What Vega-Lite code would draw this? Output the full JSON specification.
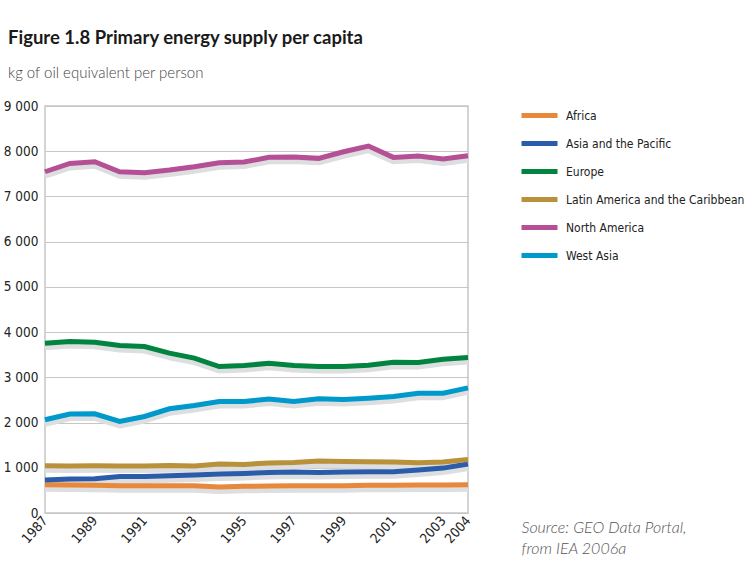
{
  "$schema": "https://vega.github.io/schema/vega-lite/v6.json",
  "autosize": {"type": "none"},
  "padding": {"left": 45, "top": 106, "right": 288, "bottom": 64},
  "width": 423,
  "height": 407,
  "background": "white",
  "title": {
    "text": "Figure 1.8 Primary energy supply per capita",
    "subtitle": "kg of oil equivalent per person",
    "anchor": "start",
    "frame": "group",
    "dx": -37,
    "offset": 18,
    "font": "Lato",
    "fontSize": 18.5,
    "fontWeight": "bold",
    "color": "#1a1a1a",
    "subtitleFont": "Lato",
    "subtitleFontSize": 15,
    "subtitleFontWeight": 300,
    "subtitleColor": "#444444",
    "subtitlePadding": 19
  },
  "data": {"values": [
    {"year":1987,"region":"Africa","value":626},{"year":1988,"region":"Africa","value":619},{"year":1989,"region":"Africa","value":612},{"year":1990,"region":"Africa","value":604},{"year":1991,"region":"Africa","value":604},{"year":1992,"region":"Africa","value":604},{"year":1993,"region":"Africa","value":604},{"year":1994,"region":"Africa","value":576},{"year":1995,"region":"Africa","value":590},{"year":1996,"region":"Africa","value":597},{"year":1997,"region":"Africa","value":604},{"year":1998,"region":"Africa","value":604},{"year":1999,"region":"Africa","value":604},{"year":2000,"region":"Africa","value":612},{"year":2001,"region":"Africa","value":612},{"year":2002,"region":"Africa","value":619},{"year":2003,"region":"Africa","value":619},{"year":2004,"region":"Africa","value":626},
    {"year":1987,"region":"Asia and the Pacific","value":728},{"year":1988,"region":"Asia and the Pacific","value":751},{"year":1989,"region":"Asia and the Pacific","value":758},{"year":1990,"region":"Asia and the Pacific","value":809},{"year":1991,"region":"Asia and the Pacific","value":809},{"year":1992,"region":"Asia and the Pacific","value":824},{"year":1993,"region":"Asia and the Pacific","value":839},{"year":1994,"region":"Asia and the Pacific","value":861},{"year":1995,"region":"Asia and the Pacific","value":875},{"year":1996,"region":"Asia and the Pacific","value":898},{"year":1997,"region":"Asia and the Pacific","value":905},{"year":1998,"region":"Asia and the Pacific","value":898},{"year":1999,"region":"Asia and the Pacific","value":905},{"year":2000,"region":"Asia and the Pacific","value":912},{"year":2001,"region":"Asia and the Pacific","value":912},{"year":2002,"region":"Asia and the Pacific","value":949},{"year":2003,"region":"Asia and the Pacific","value":993},{"year":2004,"region":"Asia and the Pacific","value":1082},
    {"year":1987,"region":"Europe","value":3755},{"year":1988,"region":"Europe","value":3791},{"year":1989,"region":"Europe","value":3776},{"year":1990,"region":"Europe","value":3702},{"year":1991,"region":"Europe","value":3680},{"year":1992,"region":"Europe","value":3534},{"year":1993,"region":"Europe","value":3424},{"year":1994,"region":"Europe","value":3239},{"year":1995,"region":"Europe","value":3260},{"year":1996,"region":"Europe","value":3313},{"year":1997,"region":"Europe","value":3260},{"year":1998,"region":"Europe","value":3239},{"year":1999,"region":"Europe","value":3239},{"year":2000,"region":"Europe","value":3269},{"year":2001,"region":"Europe","value":3335},{"year":2002,"region":"Europe","value":3328},{"year":2003,"region":"Europe","value":3402},{"year":2004,"region":"Europe","value":3437},
    {"year":1987,"region":"Latin America and the Caribbean","value":1045},{"year":1988,"region":"Latin America and the Caribbean","value":1040},{"year":1989,"region":"Latin America and the Caribbean","value":1045},{"year":1990,"region":"Latin America and the Caribbean","value":1042},{"year":1991,"region":"Latin America and the Caribbean","value":1042},{"year":1992,"region":"Latin America and the Caribbean","value":1052},{"year":1993,"region":"Latin America and the Caribbean","value":1042},{"year":1994,"region":"Latin America and the Caribbean","value":1082},{"year":1995,"region":"Latin America and the Caribbean","value":1075},{"year":1996,"region":"Latin America and the Caribbean","value":1104},{"year":1997,"region":"Latin America and the Caribbean","value":1118},{"year":1998,"region":"Latin America and the Caribbean","value":1148},{"year":1999,"region":"Latin America and the Caribbean","value":1141},{"year":2000,"region":"Latin America and the Caribbean","value":1133},{"year":2001,"region":"Latin America and the Caribbean","value":1126},{"year":2002,"region":"Latin America and the Caribbean","value":1111},{"year":2003,"region":"Latin America and the Caribbean","value":1126},{"year":2004,"region":"Latin America and the Caribbean","value":1185},
    {"year":1987,"region":"North America","value":7546},{"year":1988,"region":"North America","value":7731},{"year":1989,"region":"North America","value":7767},{"year":1990,"region":"North America","value":7546},{"year":1991,"region":"North America","value":7524},{"year":1992,"region":"North America","value":7583},{"year":1993,"region":"North America","value":7656},{"year":1994,"region":"North America","value":7745},{"year":1995,"region":"North America","value":7760},{"year":1996,"region":"North America","value":7864},{"year":1997,"region":"North America","value":7870},{"year":1998,"region":"North America","value":7842},{"year":1999,"region":"North America","value":7988},{"year":2000,"region":"North America","value":8114},{"year":2001,"region":"North America","value":7864},{"year":2002,"region":"North America","value":7893},{"year":2003,"region":"North America","value":7827},{"year":2004,"region":"North America","value":7900},
    {"year":1987,"region":"West Asia","value":2061},{"year":1988,"region":"West Asia","value":2187},{"year":1989,"region":"West Asia","value":2194},{"year":1990,"region":"West Asia","value":2024},{"year":1991,"region":"West Asia","value":2134},{"year":1992,"region":"West Asia","value":2304},{"year":1993,"region":"West Asia","value":2377},{"year":1994,"region":"West Asia","value":2465},{"year":1995,"region":"West Asia","value":2465},{"year":1996,"region":"West Asia","value":2518},{"year":1997,"region":"West Asia","value":2465},{"year":1998,"region":"West Asia","value":2525},{"year":1999,"region":"West Asia","value":2510},{"year":2000,"region":"West Asia","value":2540},{"year":2001,"region":"West Asia","value":2576},{"year":2002,"region":"West Asia","value":2650},{"year":2003,"region":"West Asia","value":2650},{"year":2004,"region":"West Asia","value":2768}
  ]},
  "encoding": {
    "x": {
      "field": "year", "type": "quantitative",
      "scale": {"domain": [1987, 2004], "nice": false, "zero": false},
      "axis": {
        "values": [1987,1989,1991,1993,1995,1997,1999,2001,2003,2004],
        "format": "d",
        "labelAngle": -48,
        "labelAlign": "right",
        "labelBaseline": "middle",
        "labelPadding": 5,
        "labelFont": "DejaVu Sans Condensed",
        "labelFontSize": 13.5,
        "labelColor": "#222222",
        "labelFlush": false,
        "labelOverlap": false,
        "ticks": false,
        "domain": false,
        "grid": false,
        "title": ["Source: GEO Data Portal,", "from IEA 2006a"],
        "titleX": 476,
        "titleY": 19,
        "titleAngle": 0,
        "titleAlign": "left",
        "titleAnchor": null,
        "titleBaseline": "alphabetic",
        "titleFont": "Lato",
        "titleFontStyle": "italic",
        "titleFontWeight": 300,
        "titleFontSize": 16,
        "titleColor": "#555555",
        "titleLineHeight": 21
      }
    },
    "y": {
      "field": "value", "type": "quantitative",
      "scale": {"domain": [0, 9000], "nice": false},
      "axis": {
        "values": [0,1000,2000,3000,4000,5000,6000,7000,8000,9000],
        "labelExpr": "replace(format(datum.value, ','), ',', ' ')",
        "labelFont": "DejaVu Sans Condensed",
        "labelFontSize": 13.5,
        "labelColor": "#222222",
        "labelPadding": 7,
        "ticks": false,
        "domain": false,
        "grid": true,
        "gridColor": "#c6c6c6",
        "gridWidth": 1,
        "title": null
      }
    }
  },
  "layer": [
    {
      "mark": {"type": "line", "color": "#dcdedf", "strokeWidth": 6, "yOffset": 4, "strokeJoin": "round"},
      "encoding": {"detail": {"field": "region"}}
    },
    {
      "mark": {"type": "line", "strokeWidth": 5, "strokeJoin": "miter"},
      "encoding": {
        "color": {
          "field": "region", "type": "nominal",
          "scale": {
            "domain": ["Africa","Asia and the Pacific","Europe","Latin America and the Caribbean","North America","West Asia"],
            "range": ["#e8883a","#2a5caa","#00843f","#b8913a","#b54f96","#0099cc"]
          },
          "legend": {
            "title": null,
            "orient": "none",
            "legendX": 486,
            "legendY": 1,
            "padding": 0,
            "symbolType": "M-3,0H3",
            "symbolSize": 144,
            "symbolStrokeWidth": 5,
            "labelOffset": 18,
            "rowPadding": 7,
            "labelLimit": 0,
            "labelFont": "DejaVu Sans Condensed",
            "labelFontSize": 12,
            "labelColor": "#222222"
          }
        }
      }
    }
  ],
  "config": {
    "view": {"stroke": "#c6c6c6", "strokeWidth": 1.5}
  }
}
